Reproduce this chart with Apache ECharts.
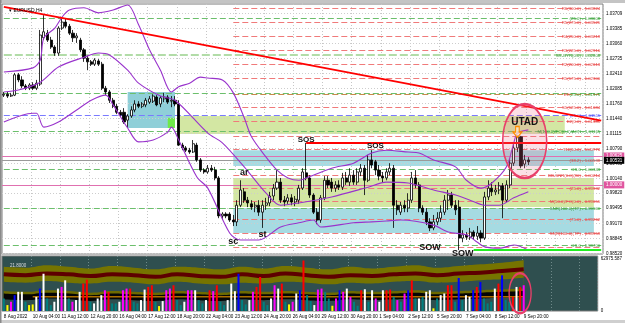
<!DOCTYPE html>
<html><head><meta charset="utf-8">
<script src="https://cdn.jsdelivr.net/npm/echarts@6/dist/echarts.min.js"></script>
<style>html,body{margin:0;padding:0;background:#fff;}#c{width:625px;height:323px;}</style>
</head><body><div id="c"></div>
<script>
// ---------------- DATA ----------------
const xTickLabels = ['8 Aug 2022','10 Aug 04:00','11 Aug 12:00','12 Aug 20:00','16 Aug 04:00','17 Aug 12:00','18 Aug 20:00','22 Aug 04:00','23 Aug 12:00','24 Aug 20:00','26 Aug 04:00','29 Aug 12:00','30 Aug 20:00','1 Sep 04:00','2 Sep 12:00','5 Sep 20:00','7 Sep 04:00','8 Sep 12:00','9 Sep 20:00'];
const priceTicks = ['1.03709','1.03385','1.03060','1.02735','1.02410','1.02085','1.01760','1.01440','1.01115','1.00790','1.00465','1.00140','0.99820','0.99495','0.99170','0.98845','0.98520'];
// [open, close, low, high] H4 bars
const candles = [
[1.0194,1.0196,1.0190,1.0201],[1.0196,1.0192,1.0188,1.0201],[1.0192,1.0194,1.0190,1.0199],[1.0194,1.0238,1.0192,1.0242],[1.0238,1.0227,1.0222,1.0242],
[1.0227,1.0214,1.0209,1.0235],[1.0214,1.0209,1.0205,1.0218],[1.0209,1.0216,1.0205,1.0220],[1.0216,1.0209,1.0205,1.0222],[1.0209,1.0220,1.0205,1.0227],
[1.0218,1.0324,1.0214,1.0335],[1.0318,1.0331,1.0313,1.0367],[1.0328,1.0313,1.0309,1.0335],[1.0313,1.0298,1.0294,1.0320],[1.0298,1.0285,1.0279,1.0302],
[1.0285,1.0339,1.0279,1.0343],[1.0339,1.0352,1.0335,1.0359],[1.0352,1.0343,1.0339,1.0359],[1.0343,1.0328,1.0324,1.0348],[1.0328,1.0318,1.0309,1.0335],
[1.0318,1.0322,1.0307,1.0328],[1.0313,1.0292,1.0287,1.0318],[1.0292,1.0274,1.0266,1.0296],[1.0274,1.0266,1.0248,1.0279],[1.0266,1.0261,1.0257,1.0270],
[1.0261,1.0270,1.0257,1.0274],[1.0268,1.0261,1.0257,1.0272],[1.0261,1.0209,1.0205,1.0266],[1.0209,1.0201,1.0194,1.0214],[1.0201,1.0183,1.0177,1.0205],
[1.0183,1.0170,1.0166,1.0188],[1.0170,1.0157,1.0153,1.0175],[1.0157,1.0151,1.0147,1.0162],[1.0157,1.0136,1.0132,1.0166],[1.0140,1.0149,1.0123,1.0153],
[1.0149,1.0162,1.0145,1.0170],[1.0162,1.0175,1.0157,1.0183],[1.0175,1.0170,1.0166,1.0181],[1.0170,1.0175,1.0166,1.0179],[1.0173,1.0183,1.0168,1.0188],
[1.0179,1.0186,1.0175,1.0192],[1.0181,1.0192,1.0177,1.0196],[1.0190,1.0173,1.0170,1.0194],[1.0175,1.0188,1.0168,1.0192],[1.0186,1.0190,1.0179,1.0199],
[1.0190,1.0179,1.0175,1.0194],[1.0181,1.0183,1.0168,1.0192],[1.0183,1.0175,1.0170,1.0192],[1.0175,1.0086,1.0084,1.0183],[1.0086,1.0080,1.0075,1.0091],
[1.0080,1.0075,1.0071,1.0084],[1.0075,1.0071,1.0067,1.0080],[1.0071,1.0089,1.0069,1.0097],[1.0086,1.0054,1.0050,1.0091],[1.0054,1.0032,1.0028,1.0058],
[1.0032,1.0028,1.0024,1.0036],[1.0028,1.0036,1.0024,1.0043],[1.0036,1.0032,1.0028,1.0043],[1.0032,1.0015,1.0010,1.0039],[1.0015,0.9933,0.9928,1.0019],
[0.9933,0.9937,0.9924,0.9941],[0.9937,0.9933,0.9928,0.9941],[0.9937,0.9924,0.9920,0.9941],[0.9924,0.9920,0.9911,0.9935],[0.9920,0.9956,0.9911,0.9967],
[0.9956,0.9989,0.9952,1.0010],[0.9985,0.9967,0.9961,0.9993],[0.9967,0.9961,0.9952,0.9974],[0.9959,0.9952,0.9946,0.9967],[0.9952,0.9956,0.9941,0.9963],
[0.9956,0.9941,0.9933,0.9967],[0.9941,0.9956,0.9907,0.9967],[0.9956,0.9961,0.9946,0.9972],[0.9961,0.9976,0.9954,0.9985],[0.9976,0.9993,0.9967,1.0002],
[0.9993,1.0006,0.9989,1.0032],[1.0006,0.9967,0.9961,1.0015],[0.9967,0.9963,0.9954,0.9976],[0.9965,0.9972,0.9959,0.9980],[0.9972,0.9963,0.9956,0.9980],
[0.9963,0.9969,0.9954,0.9976],[0.9967,0.9993,0.9959,1.0000],[0.9993,1.0028,0.9989,1.0036],[1.0026,1.0015,1.0010,1.0091],[1.0015,0.9978,0.9972,1.0021],
[0.9978,0.9941,0.9937,0.9982],[0.9941,0.9924,0.9915,0.9950],[0.9924,0.9972,0.9918,0.9978],[0.9972,1.0010,0.9967,1.0019],[1.0010,1.0000,0.9993,1.0019],
[1.0006,0.9993,0.9985,1.0015],[0.9993,1.0000,0.9985,1.0008],[1.0000,0.9995,0.9989,1.0010],[0.9995,1.0015,0.9989,1.0026],[1.0015,1.0006,1.0000,1.0028],
[1.0006,1.0021,0.9998,1.0036],[1.0021,1.0006,1.0000,1.0032],[1.0006,1.0028,1.0000,1.0036],[1.0028,1.0036,1.0019,1.0045],[1.0036,1.0010,0.9978,1.0043],
[1.0010,1.0054,1.0006,1.0065],[1.0054,1.0043,1.0036,1.0075],[1.0050,1.0032,1.0021,1.0054],[1.0032,1.0019,1.0010,1.0043],[1.0019,1.0015,1.0006,1.0028],
[1.0015,1.0028,1.0010,1.0036],[1.0028,1.0036,1.0021,1.0047],[1.0036,0.9956,0.9907,1.0043],[0.9956,0.9946,0.9935,0.9967],[0.9941,0.9956,0.9935,0.9963],
[0.9956,0.9950,0.9941,0.9967],[0.9950,0.9967,0.9941,0.9982],[0.9967,1.0015,0.9961,1.0028],[1.0015,1.0000,0.9993,1.0032],[1.0000,0.9950,0.9941,1.0006],
[0.9950,0.9941,0.9935,0.9956],[0.9941,0.9920,0.9913,0.9950],[0.9920,0.9907,0.9900,0.9928],[0.9907,0.9920,0.9902,0.9935],[0.9920,0.9928,0.9913,0.9941],
[0.9928,0.9941,0.9920,0.9956],[0.9941,0.9967,0.9935,0.9978],[0.9967,0.9978,0.9946,0.9989],[0.9978,0.9956,0.9950,0.9985],[0.9956,0.9946,0.9935,0.9967],
[0.9952,0.9885,0.9859,0.9967],[0.9885,0.9892,0.9876,0.9902],[0.9892,0.9887,0.9881,0.9898],[0.9887,0.9898,0.9881,0.9907],[0.9898,0.9889,0.9881,0.9902],
[0.9889,0.9896,0.9881,0.9911],[0.9896,0.9885,0.9876,0.9902],[0.9885,0.9974,0.9881,0.9985],[0.9974,0.9993,0.9967,1.0010],[0.9993,0.9985,0.9976,1.0006],
[0.9985,0.9989,0.9978,1.0000],[0.9989,0.9998,0.9980,1.0006],[0.9998,0.9967,0.9928,1.0004],[0.9967,1.0000,0.9963,1.0010],[1.0000,1.0047,0.9993,1.0058],
[1.0047,1.0080,1.0041,1.0091],[1.0080,1.0104,1.0071,1.0108],[1.0104,1.0041,1.0036,1.0106],[1.0045,1.0054,1.0036,1.0065],[1.0054,1.0050,1.0043,1.0060]
];
const volumes = [15000,7100,11100,19000,23000,23000,11100,7100,7900,17000,
26900,44700,15000,7100,11100,26900,28900,36800,15000,11100,
13100,23000,32900,37600,11100,9100,15000,19000,24900,23000,
9100,9100,11100,24900,26900,26900,11100,9100,13100,25700,
28900,30900,11100,5900,11900,24900,26900,30900,13100,7100,
11100,24900,24900,24900,13100,9100,13100,24900,23800,30900,
11100,7100,13100,32900,23800,44700,13100,7900,13100,23000,
28900,40800,11100,7100,15000,30900,26900,32900,11100,7900,
11100,21000,
24900,60600,19000,11900,7100,25700,26900,23000,15000,6300,
15000,24900,23000,26900,17000,11100,6300,24900,26100,11100,
24900,15000,11100,24900,24900,25700,17000,13100,11100,21000,
24900,36800,15000,15000,17000,23000,24900,3200,15000,19000,
21000,30900,30900,11100,39600,13100,19000,17000,24900,28900,
34800,15000,9100,11100,26900,32900,42800,13100,11100,17000,
28900,28900,30900];
const volColors = ['t','y','m','b','w','w','t','y','y','w','b','w','t','t','w','w','m','w','t','m','w','w','r','r','t','w','w','w','m','r','t','t','w','m','m','r','t','t','w','w','r','r','t','y','w','m','m','r','t','t','w','m','m','w','t','t','w','r','m','r','t','t','w','w','w','b','t','t','w','m','r','r','t','t','w','m','w','r','t','y','m','w',
'b','r','t','t','w','m','m','t','t','y','m','b','m','w','m','t','t','r','w','t','w','m','w','w','r','r','t','m','t','m','b','r','t','w','t','w','w','y','t','w','w','r','r','t','b','t','w','w','b','r','b','t','t','t','w','r','b','t','t','r','w','r','m'];
const bbUpper = [[0,1.0244],[8,1.0253],[10,1.0270],[11,1.0318],[14,1.0339],[16,1.0363],[18,1.0378],[22,1.0383],[26,1.0372],[30,1.0378],[34,1.0389],[37,1.0346],[40,1.0292],[43,1.0248],[46,1.0201],[48,1.0212],[51,1.0220],[54,1.0233],[56,1.0231],[60,1.0227],[63,1.0199],[66,1.0145],[68,1.0104],[72,1.0060],[75,1.0032],[78,1.0015],[81,1.0010],[83,1.0015],[90,1.0036],[96,1.0047],[101,1.0069],[105,1.0075],[111,1.0071],[114,1.0069],[118,1.0054],[124,1.0039],[127,1.0010],[131,0.9993],[134,1.0004],[138,1.0039],[140,1.0091],[141,1.0112],[144,1.0119]];
const bbMiddle = [[0,1.0201],[4,1.0205],[10,1.0222],[15,1.0255],[22,1.0276],[26,1.0285],[29,1.0281],[34,1.0248],[37,1.0220],[43,1.0192],[47,1.0183],[56,1.0112],[60,1.0091],[66,1.0039],[72,0.9982],[76,0.9956],[81,0.9961],[90,0.9974],[100,0.9995],[105,1.0006],[111,1.0004],[118,0.9989],[124,0.9978],[128,0.9967],[132,0.9956],[136,0.9956],[140,0.9972],[144,0.9985]];
const bbLower = [[0,1.0136],[8,1.0155],[9,1.0155],[11,1.0125],[15,1.0136],[20,1.0162],[24,1.0183],[28,1.0194],[30,1.0173],[34,1.0123],[37,1.0093],[41,1.0097],[45,1.0114],[46,1.0125],[48,1.0097],[53,1.0017],[56,0.9993],[62,0.9896],[65,0.9881],[70,0.9881],[76,0.9909],[81,0.9918],[85,0.9924],[87,0.9909],[96,0.9918],[101,0.9920],[105,0.9922],[109,0.9924],[118,0.9913],[122,0.9898],[127,0.9892],[130,0.9876],[132,0.9866],[136,0.9863],[140,0.9870],[144,0.9859]];
// volume pane envelopes (idx, volume)
const envTop    = [[0,53000],[6,52000],[12,55000],[18,53000],[24,51000],[30,54000],[36,52000],[42,50000],[48,53000],[54,52000],[60,50000],[66,53000],[72,51000],[78,54000],[84,52000],[90,50000],[96,53000],[102,51000],[108,53000],[114,55000],[120,52000],[126,54000],[132,56000],[138,58000],[144,61000]];
const envBottom = [[0,35000],[6,34000],[12,36000],[18,34000],[24,33000],[30,35000],[36,34000],[42,32000],[48,35000],[54,33000],[60,32000],[66,34000],[72,33000],[78,35000],[84,34000],[90,32000],[96,34000],[102,33000],[108,35000],[114,36000],[120,34000],[126,35000],[132,37000],[138,38000],[144,40000]];
const envMid    = [[0,44000],[6,43000],[12,45000],[18,44000],[24,42000],[30,44000],[36,43000],[42,41000],[48,44000],[54,42000],[60,41000],[66,44000],[72,42000],[78,45000],[84,43000],[90,41000],[96,43000],[102,42000],[108,44000],[114,45000],[120,43000],[126,45000],[132,46000],[138,48000],[144,50000]];
const lowTop    = [[0,24000],[6,23000],[12,25000],[18,24000],[24,22000],[30,24000],[36,23000],[42,22000],[48,24000],[54,23000],[60,22000],[66,24000],[72,23000],[78,24000],[84,23000],[90,22000],[96,24000],[102,23000],[108,24000],[114,25000],[120,23000],[126,24000],[132,25000],[138,26000],[144,27000]];
const blackTop  = [[0,21000],[6,20000],[12,22000],[18,21000],[24,19000],[30,21000],[36,20000],[42,19000],[48,21000],[54,20000],[60,19000],[66,21000],[72,20000],[78,21000],[84,20000],[90,19000],[96,21000],[102,20000],[108,21000],[114,22000],[120,20000],[126,21000],[132,22000],[138,23000],[144,24000]];
const blackBot  = [[0,14000],[6,13000],[12,15000],[18,14000],[24,12000],[30,14000],[36,13000],[42,12000],[48,14000],[54,13000],[60,12000],[66,14000],[72,13000],[78,14000],[84,13000],[90,12000],[96,14000],[102,13000],[108,14000],[114,15000],[120,13000],[126,14000],[132,15000],[138,16000],[144,16000]];
const volAvg = [[8,17000],[144,17000]];
// levels: [price, fromIndex, kind, label]
const levels = [
 [1.03824,63,'r','R6(300.0) - 1.03824'],
 [1.03608,0,'g','(25.0) - 1.03608'],
 [1.03521,63,'r','R5(275.0) - 1.03521'],
 [1.03219,63,'r','R4(250.0) - 1.03219'],
 [1.02916,63,'r','R3(225.0) - 1.02916'],
 [1.02808,0,'lg','SR-BYR(0.0) - 1.02808'],
 [1.02613,63,'r','R2(200.0) - 1.02613'],
 [1.02300,63,'r','R1(175.0) - 1.02300'],
 [1.01990,0,'g',''],
 [1.01970,63,'br','{r|EX}{g|(25.0) - 1.01975}'],
 [1.01684,63,'r','S1(125.0) - 1.01684'],
 [1.01511,0,'b','(25.0) - 1.01511'],
 [1.01381,63,'r','E2(0.0) - 1.01381'],
 [1.01165,0,'g','M(100.0)/FO(0.0)/AON - 1.01165'],
 [1.01057,63,'r',''],
 [1.00776,63,'r','R1(50.0) - 1.00776'],
 [1.00538,63,'r','(38.2) - 1.00538'],
 [1.00343,0,'g','CS.0 - 1.00343'],
 [1.00214,63,'r','BB-SNR(0.0)(80) - 1.00214'],
 [0.99932,63,'r','(25.0) - 0.99932'],
 [0.99651,63,'r','M(50.0)/FO(0.0) - 0.99651'],
 [0.99500,0,'g','SNR(100.0)(TP) - 0.99500'],
 [0.99262,63,'r','(75.0) - 0.99262'],
 [0.98959,63,'r','SNR(100.0)(TP) - 0.98959'],
 [0.98700,0,'g','CS.0 - 0.98700'],
 [0.98657,63,'r','']
];
const priceMarks = [[1.00625,'1.00625','#e0559f'],[1.00531,'1.00531','#000000'],[1.00000,'1.00000','#e0559f']];
// zones: [fromIdx, top, toIdx, bottom, color]
const zones = [
 [34,1.0201,47,1.0123,'#8fcfd8'],
 [45,1.0145,47,1.0123,'#6fe84a'],
 [48,1.0149,154,1.0110,'#d3e7a3'],
 [63,1.0075,162,1.0041,'#a6dbe2'],
 [63,1.0015,162,0.9952,'#d3e7a3'],
 [63,0.9950,162,0.9896,'#a6dbe2']
];
const trendLine = [[0,1.0385],[164,1.0139]];
const sosLine = [[83,1.0091],[164,1.0091]];
const greenLine = [[129,0.98592],[164,0.98592]];
const wyckoff = [['SOS',83,1.00970,8],['SOS',102,1.00851,8],['ar',66,1.00263,9],['sc',63,0.98776,9],['st',71,0.98938,9],['SOW',117,0.98657,9],['SOW',126,0.98516,9],['UTAD',143,1.01349,10]];
const utadEllipse = [143,1.00948];
const utadArrow = [141,1.01143];
const volEllipse = [143,21400];

// ---------------- CHART ----------------
const NSLOT = 165;
const cats = [];
for (let i = 0; i < NSLOT; i++) cats.push(String(i));
const FONT = 'Liberation Sans, Arial, sans-serif';
const kindStyle = {
  r: {color:'#f07a7a', type:[6,3], width:1, text:'#e53b3b'},
  g: {color:'#6cbf6c', type:[6,3], width:1, text:'#2f9a2f'},
  lg:{color:'#b2dca8', type:[8,3], width:2.2, text:'#3c9a3c'},
  b: {color:'#7a7aff', type:[6,3], width:1, text:'#4545f0'},
  br:{color:'#c88a4c', type:[6,3], width:1, text:'#3c9a3c'}
};
const levelLines = levels.map(([p, from, k, lab]) => {
  const s = kindStyle[k];
  return [{coord:[from, p], lineStyle:{color:s.color, type:s.type, width:s.width},
    label:{show: lab !== '', position:'insideEndTop', distance:[1,-2.6], formatter: lab, fontSize:4.3, color:s.text, fontFamily:FONT,
      rich:{r:{color:'#e53b3b', fontSize:4.3, fontFamily:FONT}, g:{color:'#2f9a2f', fontSize:4.3, fontFamily:FONT}}}},
    {coord:[NSLOT-1, p]}];
});
const tickLines = priceTicks.map(t => ({yAxis: parseFloat(t), lineStyle:{color:'#cdcdcd', type:[1,2], width:1},
  label:{show:true, position:'end', distance:3, formatter:t, fontSize:4.5, color:'#000', fontFamily:FONT}}));
const markBoxes = priceMarks.map(([p, t, c]) => ({yAxis:p, lineStyle:{color: c === '#000000' ? '#9a9a9a' : '#e070b0', type:'solid', width:1},
  label:{show:true, position:'end', distance:1, formatter:t, fontSize:4.5, color:'#fff', backgroundColor:c, padding:[1,2], fontFamily:FONT}}));

const volData = volumes.map((v, i) => ({value:v, itemStyle:{color:{t:'#008080', y:'#ffff00', m:'#ff00ff', b:'#0000ff', w:'#ffffff', r:'#ff0000'}[volColors[i]]}}));
const closes = candles.map(c => c[1]);

const areaSeries = (data, color, z) => ({type:'line', xAxisIndex:1, yAxisIndex:1, data, smooth:0.5, symbol:'none', silent:true, z,
  lineStyle:{width:0}, areaStyle:{color, opacity:1, origin:'start'}});

const option = {
  animation:false,
  backgroundColor:'#ffffff',
  textStyle:{fontFamily:FONT},
  title:[
    {text:'\u25BE EURUSD,H4', left:4, top:3, textStyle:{fontSize:5, fontWeight:'normal', color:'#000', fontFamily:FONT}},
    {text:'21.8000', left:5, top:258, textStyle:{fontSize:4.5, fontWeight:'normal', color:'#dcdcdc', fontFamily:FONT}}
  ],
  graphic:[
    {type:'rect', left:0, top:0, shape:{width:625, height:3}, style:{fill:'#c4c4c4'}, silent:true},
    {type:'rect', left:0, top:320, shape:{width:625, height:3}, style:{fill:'#cfcfcf'}, silent:true},
    {type:'rect', left:0, top:0, shape:{width:1.5, height:323}, style:{fill:'#8a8a8a'}, silent:true}
  ],
  grid:[
    {left:2, right:22, top:4, height:250, show:true, borderColor:'#7a7a7a', borderWidth:1, backgroundColor:'#fff'},
    {left:2, right:22, top:256, height:55, show:true, borderColor:'#7a7a7a', borderWidth:1, backgroundColor:'#2f4f4f'}
  ],
  xAxis:[
    {type:'category', gridIndex:0, data:cats, boundaryGap:true, axisLine:{show:false}, axisTick:{show:false}, axisLabel:{show:false},
     splitLine:{show:true, interval:(i)=> i % 8 === 0 && i > 0, lineStyle:{type:[1,2], color:'#c6c6c6'}}},
    {type:'category', gridIndex:1, data:cats, boundaryGap:true, axisLine:{show:false}, axisTick:{show:false},
     axisLabel:{show:true, interval:(i)=> i % 8 === 0 && (i/8) < xTickLabels.length, formatter:(v, i)=> xTickLabels[i/8] || '', align:'left', fontSize:4.6, color:'#000', margin:3, fontFamily:FONT},
     splitLine:{show:true, interval:(i)=> i % 8 === 0 && i > 0, lineStyle:{type:[1,2], color:'#6f8a8a'}}}
  ],
  yAxis:[
    {type:'value', gridIndex:0, min:0.98506, max:1.03911, position:'right', axisLabel:{show:false}, splitLine:{show:false}, axisLine:{show:false}, axisTick:{show:false}},
    {type:'value', gridIndex:1, min:0, max:66000, interval:62975.587, position:'right', splitLine:{show:false}, axisLine:{show:false}, axisTick:{show:false},
     axisLabel:{fontSize:4.5, color:'#000', margin:3, formatter:(v)=> v === 0 ? '0' : '62975.587', fontFamily:FONT}}
  ],
  series:[
    {type:'line', name:'zones', data:closes, symbol:'none', silent:true, z:1, lineStyle:{opacity:0},
     markArea:{silent:true, z:1, data: zones.map(([a, t, b, btm, c]) => [{coord:[a, t], itemStyle:{color:c, opacity:1}}, {coord:[b, btm]}])}},
    {type:'line', name:'levels', data:closes, symbol:'none', silent:true, z:1.5, lineStyle:{opacity:0},
     markLine:{silent:true, z:1.5, precision:6, symbol:['none','none'], animation:false, data: tickLines.concat(levelLines).concat(markBoxes)}},
    {type:'candlestick', name:'EURUSD', data:candles, z:3, barWidth:2.6, silent:true,
     itemStyle:{color:'#ffffff', color0:'#000000', borderColor:'#000000', borderColor0:'#000000', borderWidth:0.8}},
    {type:'line', name:'BB upper', data:bbUpper, symbol:'none', smooth:0.3, z:4, silent:true, lineStyle:{color:'#9933cc', width:1.1}},
    {type:'line', name:'BB middle', data:bbMiddle, symbol:'none', smooth:0.3, z:4, silent:true, lineStyle:{color:'#9933cc', width:1.1}},
    {type:'line', name:'BB lower', data:bbLower, symbol:'none', smooth:0.3, z:4, silent:true, lineStyle:{color:'#9933cc', width:1.1}},
    {type:'line', name:'annot', data:closes, symbol:'none', silent:true, z:5, lineStyle:{opacity:0},
     markLine:{silent:true, z:5, precision:6, symbol:['none','none'], animation:false, label:{show:false}, data:[
       [{coord:trendLine[0], lineStyle:{color:'#ff0000', width:1.8, type:'solid'}}, {coord:trendLine[1]}],
       [{coord:sosLine[0], lineStyle:{color:'#ff0000', width:1.8, type:'solid'}}, {coord:sosLine[1]}],
       [{coord:greenLine[0], lineStyle:{color:'#22ee22', width:2, type:'solid'}}, {coord:greenLine[1]}]
     ]},
     markPoint:{silent:true, z:6, animation:false, data:[
       {coord:utadEllipse, symbol:'circle', symbolSize:[44,74], itemStyle:{color:'rgba(236,110,140,0.22)', borderColor:'#e8406a', borderWidth:2}, label:{show:false}},
       {coord:utadArrow, symbol:'path://M3,0 L7,0 L7,5 L10,5 L5,10 L0,5 L3,5 Z', symbolSize:[9,11], itemStyle:{color:'rgba(255,235,210,0.7)', borderColor:'#ff8c00', borderWidth:1.2}, label:{show:false}}
     ].concat(wyckoff.map(([t, i, p, fs]) => ({coord:[i, p], symbol:'circle', symbolSize:1, itemStyle:{color:'rgba(0,0,0,0)'},
       label:{show:true, position:'inside', formatter:t, fontSize:fs, fontWeight:'bold', color:'#111', fontFamily:FONT}})))}},
    areaSeries(envTop, '#767400', 1),
    areaSeries(envBottom, '#2f4f4f', 1.1),
    areaSeries(lowTop, '#6c6a00', 1.2),
    areaSeries(blackTop, '#050505', 1.3),
    areaSeries(blackBot, '#2f4f4f', 1.4),
    {type:'line', xAxisIndex:1, yAxisIndex:1, data:envMid, smooth:0.5, symbol:'none', silent:true, z:2, lineStyle:{color:'#5e0000', width:4}},
    {type:'line', xAxisIndex:1, yAxisIndex:1, data:volAvg, symbol:'none', silent:true, z:2, lineStyle:{color:'#ffa500', width:1}},
    {type:'bar', name:'Volume', xAxisIndex:1, yAxisIndex:1, data:volData, barWidth:2, z:3, silent:true,
     markPoint:{silent:true, z:4, animation:false, data:[{coord:volEllipse, symbol:'circle', symbolSize:[22,40], itemStyle:{color:'rgba(0,0,0,0)', borderColor:'#e8406a', borderWidth:1.8}, label:{show:false}}]}}
  ]
};
const chart = echarts.init(document.getElementById('c'), null, {renderer:'canvas'});
chart.setOption(option);
</script></body></html>
